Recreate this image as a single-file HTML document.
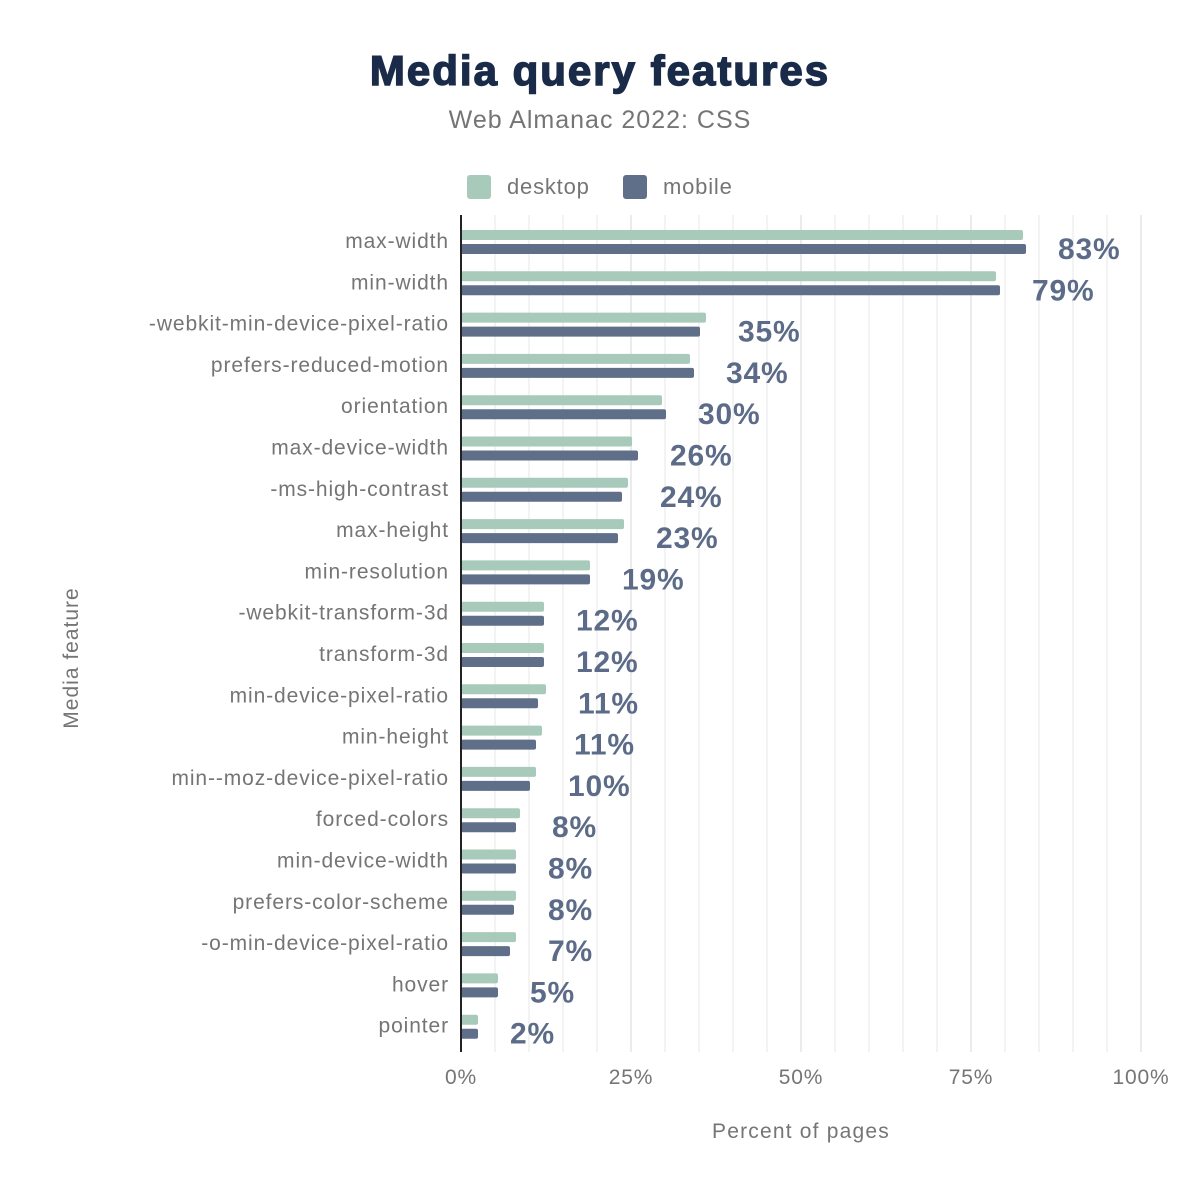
<!DOCTYPE html>
<html><head><meta charset="utf-8"><style>body{margin:0;background:#fff}svg{display:block}text{font-family:"Liberation Sans",Arial,sans-serif}</style></head>
<body>
<svg width="1200" height="1196" viewBox="0 0 1200 1196">
<text x="600" y="85" text-anchor="middle" font-size="42" font-weight="bold" fill="#1a2b49" stroke="#1a2b49" stroke-width="1.5" letter-spacing="2">Media query features</text>
<text x="600" y="128" text-anchor="middle" font-size="25" fill="#757575" letter-spacing="1">Web Almanac 2022: CSS</text>
<rect x="467" y="175" width="24" height="24" rx="3" fill="#a8cabb"/>
<text x="507" y="194" font-size="22" fill="#757575" letter-spacing="0.8">desktop</text>
<rect x="623" y="175" width="24" height="24" rx="3" fill="#5f6f8a"/>
<text x="663" y="194" font-size="22" fill="#757575" letter-spacing="0.8">mobile</text>
<g id="grid"></g>
<g id="bars"></g>
<line x1="461" y1="215" x2="461" y2="1052" stroke="#222" stroke-width="2"/>
<g font-size="21" fill="#757575" text-anchor="middle" letter-spacing="0.8">
<text x="461" y="1084">0%</text><text x="631" y="1084">25%</text><text x="801" y="1084">50%</text><text x="971" y="1084">75%</text><text x="1141" y="1084">100%</text>
</g>
<text x="801" y="1138" text-anchor="middle" font-size="21" fill="#757575" letter-spacing="1.2">Percent of pages</text>
<text transform="translate(78,658) rotate(-90)" text-anchor="middle" font-size="21" fill="#757575" letter-spacing="1">Media feature</text>
<script>
var d=[["max-width",1023,1026,"83%"],["min-width",996,1000,"79%"],["-webkit-min-device-pixel-ratio",706,700,"35%"],["prefers-reduced-motion",690,694,"34%"],["orientation",662,666,"30%"],["max-device-width",632,638,"26%"],["-ms-high-contrast",628,622,"24%"],["max-height",624,618,"23%"],["min-resolution",590,590,"19%"],["-webkit-transform-3d",544,544,"12%"],["transform-3d",544,544,"12%"],["min-device-pixel-ratio",546,538,"11%"],["min-height",542,536,"11%"],["min--moz-device-pixel-ratio",536,530,"10%"],["forced-colors",520,516,"8%"],["min-device-width",516,516,"8%"],["prefers-color-scheme",516,514,"8%"],["-o-min-device-pixel-ratio",516,510,"7%"],["hover",498,498,"5%"],["pointer",478,478,"2%"]];
var ns="http://www.w3.org/2000/svg",g=document.getElementById("grid"),b=document.getElementById("bars");
function el(p,t,a,txt){var e=document.createElementNS(ns,t);for(var k in a)e.setAttribute(k,a[k]);if(txt)e.textContent=txt;p.appendChild(e);}
for(var i=1;i<=20;i++){var x=461+i*34;el(g,"line",{x1:x,y1:215,x2:x,y2:1052,stroke:i%5==0?"#ebebeb":"#f3f3f3","stroke-width":2});}
d.forEach(function(r,i){var y=241+i*41.3;
el(b,"rect",{x:461,y:y-11,width:r[1]-461,height:10,rx:2,fill:"#a8cabb"});
el(b,"rect",{x:461,y:y+3,width:r[2]-461,height:10,rx:2,fill:"#5f6f8a"});
el(b,"text",{x:449,y:y+7,"text-anchor":"end","font-size":21,fill:"#757575","letter-spacing":0.9},r[0]);
el(b,"text",{x:Math.max(r[1],r[2])+32,y:y+18,"font-size":30,"font-weight":"bold",fill:"#5c6c88","letter-spacing":0.8},r[3]);});
</script>
</svg>
</body></html>
